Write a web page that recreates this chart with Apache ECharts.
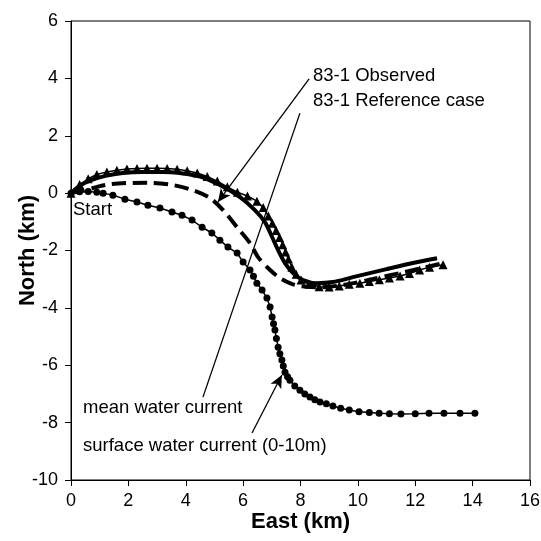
<!DOCTYPE html>
<html>
<head>
<meta charset="utf-8">
<script src="https://cdn.jsdelivr.net/npm/echarts@6/dist/echarts.min.js"></script>
<style>
  html, body { margin: 0; padding: 0; background: #fff; }
  #chart { width: 541px; height: 541px; }
</style>
</head>
<body>
<div id="chart"></div>
<script>
// track points, [east km, north km]
const observedPts = [
  [0, 0], [0.4, 0.08], [0.77, 0.18], [1.3, 0.3], [1.95, 0.35], [2.75, 0.36],
  [3.56, 0.28], [4.25, 0.1], [4.84, -0.17], [5.3, -0.59], [5.79, -1.19],
  [6.24, -1.74], [6.52, -2.23], [6.94, -2.68], [7.28, -2.96], [7.63, -3.14],
  [7.98, -3.24], [8.68, -3.28], [9.5, -3.2], [10.5, -3.0], [11.5, -2.78], [12.86, -2.47]
];
const referencePts = [
  [0, 0], [0.3, 0.25], [0.7, 0.45], [1.2, 0.6], [1.8, 0.7], [2.5, 0.74], [3.2, 0.74],
  [3.8, 0.7], [4.5, 0.58], [5.19, 0.28], [5.89, -0.14], [6.41, -0.59], [6.76, -1.01],
  [7.01, -1.53], [7.22, -1.99], [7.46, -2.44], [7.74, -2.79], [8.09, -3.03],
  [8.57, -3.14], [9.13, -3.1], [9.83, -2.93], [11, -2.65], [12, -2.42], [12.76, -2.27]
];
const meanPts = [
  [0, 0], [0.3, 0.3], [0.6, 0.5], [0.9, 0.65], [1.25, 0.74], [1.6, 0.8], [1.95, 0.84],
  [2.3, 0.86], [2.65, 0.87], [3.0, 0.87], [3.35, 0.86], [3.7, 0.83], [4.05, 0.78],
  [4.4, 0.7], [4.75, 0.58], [5.1, 0.42], [5.45, 0.22], [5.8, 0.03], [6.15, -0.1],
  [6.48, -0.28], [6.7, -0.5], [6.88, -0.8], [7.02, -1.05], [7.15, -1.3], [7.27, -1.55],
  [7.38, -1.8], [7.48, -2.05], [7.58, -2.3], [7.7, -2.58], [7.85, -2.83], [8.02, -3.03],
  [8.3, -3.18], [8.65, -3.26], [9.0, -3.27], [9.35, -3.24], [9.7, -3.18], [10.07, -3.14],
  [10.4, -3.08], [10.75, -3.02], [11.1, -2.96], [11.47, -2.89], [11.8, -2.8],
  [12.15, -2.68], [12.5, -2.58], [12.97, -2.5]
];
const surfacePts = [
  [0, 0], [0.3, 0.05], [0.6, 0.06], [0.9, 0.03], [1.12, 0], [1.46, -0.07], [1.88, -0.21],
  [2.3, -0.31], [2.68, -0.42], [3.1, -0.52], [3.52, -0.66], [3.87, -0.77], [4.22, -0.94],
  [4.57, -1.19], [4.91, -1.39], [5.19, -1.64], [5.47, -1.88], [5.79, -2.09], [6.0, -2.4],
  [6.24, -2.68], [6.36, -2.9], [6.48, -3.14], [6.66, -3.38], [6.83, -3.66], [6.94, -3.97],
  [7.01, -4.32], [7.06, -4.55], [7.11, -4.77], [7.16, -5.07], [7.22, -5.37], [7.28, -5.6],
  [7.35, -5.82], [7.4, -6.03], [7.46, -6.24], [7.55, -6.4], [7.63, -6.52], [7.8, -6.72],
  [7.98, -6.87], [8.15, -7.0], [8.33, -7.11], [8.5, -7.2], [8.68, -7.28], [8.9, -7.34],
  [9.13, -7.42], [9.4, -7.5], [9.7, -7.56], [10.04, -7.62], [10.4, -7.65], [10.74, -7.67],
  [11.1, -7.69], [11.5, -7.7], [12.0, -7.69], [12.48, -7.67], [13.0, -7.67],
  [13.56, -7.67], [14.08, -7.67]
];

// annotation leader lines, [from, to] in data coords
const leaderObserved = [[8.3, 3.98], [5.12, -0.31]];
const leaderReference = [[7.98, 2.79], [4.6, -7.11]];
const leaderSurface = [[6.31, -8.36], [7.35, -6.34]];

const FONT = '"Liberation Sans", Arial, sans-serif';

const chart = echarts.init(document.getElementById('chart'));

const leader = (pts, arrow) => [
  { coord: pts[0], symbol: 'none' },
  { coord: pts[1], symbol: arrow ? 'arrow' : 'none', symbolSize: [9, 13] }
];

const text = (str, left, top) => ({
  type: 'text',
  left: left,
  top: top,
  style: { text: str, font: '18.5px ' + FONT, fill: '#000' }
});

chart.setOption({
  animation: false,
  grid: {
    left: 71, right: 11, top: 21, bottom: 61,
    outerBoundsMode: 'none',
    containLabel: false,
    show: true, borderColor: '#000', borderWidth: 1
  },
  xAxis: {
    type: 'value', min: 0, max: 16, interval: 2,
    name: 'East (km)', nameLocation: 'middle', nameGap: 31,
    nameMoveOverlap: false,
    nameTextStyle: { fontFamily: FONT, fontSize: 22, fontWeight: 'bold', color: '#000' },
    axisLine: { onZero: false, lineStyle: { color: '#000', width: 1 } },
    axisTick: { length: 6, lineStyle: { color: '#000' } },
    axisLabel: { margin: 12, fontFamily: FONT, fontSize: 18, color: '#000' },
    splitLine: { show: false }
  },
  yAxis: {
    type: 'value', min: -10, max: 6, interval: 2,
    name: 'North (km)', nameLocation: 'middle', nameGap: 32,
    nameMoveOverlap: false,
    nameTextStyle: { fontFamily: FONT, fontSize: 22, fontWeight: 'bold', color: '#000' },
    axisLine: { onZero: false, lineStyle: { color: '#000', width: 1 } },
    axisTick: { length: 6, lineStyle: { color: '#000' } },
    axisLabel: { margin: 13, fontFamily: FONT, fontSize: 18, color: '#000' },
    splitLine: { show: false }
  },
  series: [
    {
      name: '83-1 Observed',
      type: 'line',
      data: observedPts,
      smooth: 0.3,
      showSymbol: false,
      lineStyle: { color: '#000', width: 4, type: [14, 7] },
      markLine: {
        silent: true,
        label: { show: false },
        lineStyle: { color: '#000', width: 1.3, type: 'solid' },
        data: [leader(leaderObserved, true), leader(leaderReference, false), leader(leaderSurface, true)]
      }
    },
    {
      name: '83-1 Reference case',
      type: 'line',
      data: referencePts,
      smooth: 0.3,
      showSymbol: false,
      lineStyle: { color: '#000', width: 4 }
    },
    {
      name: 'mean water current',
      type: 'line',
      data: meanPts,
      symbol: 'triangle',
      symbolSize: 9,
      itemStyle: { color: '#000' },
      lineStyle: { color: '#000', width: 1.5 }
    },
    {
      name: 'surface water current (0-10m)',
      type: 'line',
      data: surfacePts,
      symbol: 'circle',
      symbolSize: 7,
      itemStyle: { color: '#000' },
      lineStyle: { color: '#000', width: 1.5 }
    }
  ],
  graphic: [
    text('83-1 Observed', 313, 66),
    text('83-1 Reference case', 313, 91),
    text('Start', 73, 200),
    text('mean water current', 83, 398),
    text('surface water current (0-10m)', 83, 436)
  ]
});
</script>
</body>
</html>
